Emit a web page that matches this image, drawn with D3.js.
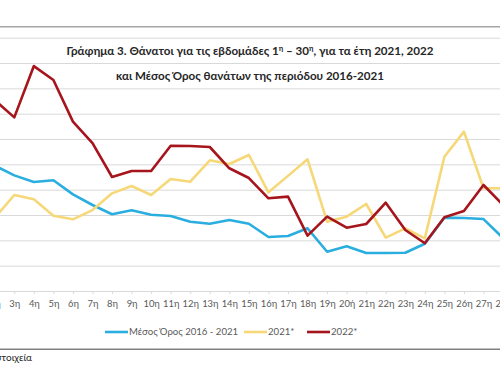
<!DOCTYPE html>
<html>
<head>
<meta charset="utf-8">
<script src="https://cdn.jsdelivr.net/npm/d3@7"></script>
<style>
  body { margin: 0; background: #fff; }
  svg { display: block; font-family: Lato, "Open Sans", sans-serif; }
</style>
</head>
<body>
<div class="chart"></div>
<script>
var svgWidth = 500;
var svgHeight = 374;

// week labels (the original has "20ή")
var weeks = ["1η","2η","3η","4η","5η","6η","7η","8η","9η","10η","11η","12η","13η","14η","15η",
  "16η","17η","18η","19η","20ή","21η","22η","23η","24η","25η","26η","27η","28η","29η","30η"];

// Μέσος Όρος 2016 - 2021
var mean1621 = [2650,2590,2513,2461,2474,2363,2279,2206,2237,2202,2192,2147,2131,2161,2131,
  2026,2034,2095,1910,1953,1900,1900,1902,1973,2179,2176,2168,2018,2000,1990];
// 2021*
var deaths2021 = [2150,2176,2358,2324,2194,2166,2239,2371,2429,2358,2484,2463,2632,2603,2674,
  2379,2509,2640,2147,2187,2287,2021,2095,2016,2660,2858,2411,2411,2450,2400];
// 2022*
var deaths2022 = [2950,3108,2971,3376,3266,2937,2768,2500,2547,2547,2747,2745,2737,2569,2492,
  2332,2345,2037,2187,2100,2129,2297,2082,1977,2182,2232,2437,2279,2250,2200];

var yTicks = [1600,1800,2000,2200,2400,2600,2800,3000,3200,3400,3600];

var seriesNames = ["Μέσος Όρος 2016 - 2021", "2021*", "2022*"];
var seriesColors = ["#2aaee0", "#f6d878", "#a6141c"];

// the picture is a crop of a wider chart: plot area runs past both edges
var plotLeft = -30, plotRight = 560;
var plotTop = 37.7, plotBottom = 291;

var svg = d3.select(".chart").append("svg")
  .attr("width", svgWidth)
  .attr("height", svgHeight);

// frame lines
svg.append("line").attr("x1", 0).attr("x2", svgWidth).attr("y1", 26.7).attr("y2", 26.7)
  .attr("stroke", "#a6a6a6").attr("stroke-width", 1.5);
svg.append("line").attr("x1", 0).attr("x2", svgWidth).attr("y1", 349.3).attr("y2", 349.3)
  .attr("stroke", "#808080").attr("stroke-width", 1.5);

var xScale = d3.scalePoint()
  .domain(weeks)
  .range([-24.8, 542.15]);

var yScale = d3.scaleLinear()
  .domain([1600, 3600])
  .range([plotBottom, plotTop]);

// gridlines (value labels sit outside the cropped view, so none are drawn)
var yAxis = svg.append("g")
  .attr("transform", `translate(${plotLeft},0)`)
  .call(d3.axisLeft(yScale).tickValues(yTicks).tickSize(-(plotRight - plotLeft)).tickFormat(""));
yAxis.select(".domain").remove();
yAxis.selectAll(".tick line").attr("stroke", "#d9d9d9").attr("stroke-width", 1);

// x axis
var xAxis = svg.append("g")
  .attr("transform", `translate(0,${plotBottom})`)
  .call(d3.axisBottom(xScale).tickSize(3).tickPadding(6));
xAxis.select(".domain").attr("stroke", "#d9d9d9");
xAxis.selectAll(".tick line").attr("stroke", "#d9d9d9");
xAxis.selectAll(".tick text")
  .attr("fill", "#595959")
  .style("font-size", "9.4px")
  .style("font-family", "Lato, sans-serif");

// lines
var allSeries = [mean1621, deaths2021, deaths2022];
var line = d3.line()
  .x((d, i) => xScale(weeks[i]))
  .y(d => yScale(d));

svg.append("g").selectAll("path")
  .data(allSeries)
  .enter()
  .append("path")
  .attr("d", d => line(d))
  .attr("fill", "none")
  .attr("stroke", (d, i) => seriesColors[i])
  .attr("stroke-width", 2.6)
  .attr("stroke-linejoin", "round");

// title
var title = svg.append("g")
  .attr("font-weight", "bold")
  .attr("fill", "#262626")
  .style("font-size", "11.6px");

var t1 = title.append("text").attr("x", 250).attr("y", 55).attr("text-anchor", "middle");
t1.append("tspan").text("Γράφημα 3. Θάνατοι για τις εβδομάδες 1");
t1.append("tspan").text("η").attr("dy", -4).style("font-size", "7.5px");
t1.append("tspan").text(" – 30").attr("dy", 4);
t1.append("tspan").text("η").attr("dy", -4).style("font-size", "7.5px");
t1.append("tspan").text(", για τα έτη 2021, 2022").attr("dy", 4);

title.append("text").attr("x", 250).attr("y", 80).attr("text-anchor", "middle")
  .text("και Μέσος Όρος θανάτων της περιόδου 2016-2021");

// legend
var legendX = [105, 244, 307];
var legend = svg.append("g").selectAll("g")
  .data(seriesNames)
  .enter()
  .append("g")
  .attr("transform", (d, i) => `translate(${legendX[i]},332)`);

legend.append("line")
  .attr("x1", 0).attr("x2", 23)
  .attr("stroke", (d, i) => seriesColors[i])
  .attr("stroke-width", 2.6);

legend.append("text")
  .attr("x", 24)
  .attr("dy", "0.35em")
  .attr("fill", "#595959")
  .style("font-size", "9.6px")
  .text(d => d);

// footnote, cut off at the left edge as in the reference
svg.append("text")
  .attr("x", 32)
  .attr("y", 361)
  .attr("text-anchor", "end")
  .attr("fill", "#262626")
  .style("font-size", "10px")
  .text("* Προσωρινά στοιχεία");
</script>
</body>
</html>
